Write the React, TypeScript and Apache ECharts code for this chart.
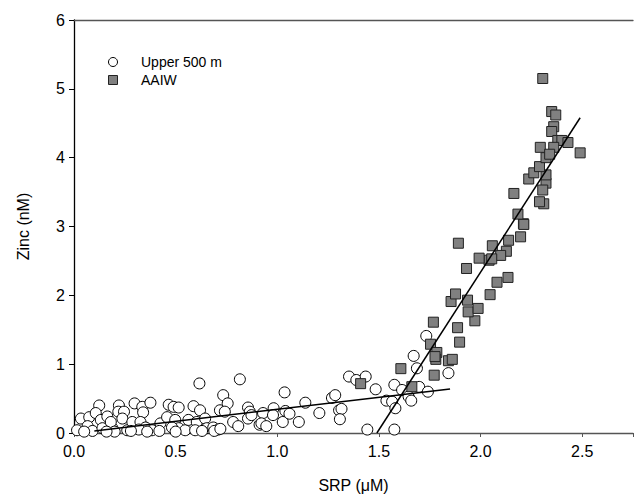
import React, { useEffect, useRef } from "react";
import * as echarts from "echarts";

// Upper 500 m samples: [SRP (µM), Zinc (nM)]
const upper500: number[][] = [
  [0.015, 0.04], [0.034, 0.21], [0.075, 0.23], [0.067, 0.1], [0.091, 0.03],
  [0.124, 0.4], [0.107, 0.29], [0.132, 0.19], [0.14, 0.07], [0.164, 0.24],
  [0.189, 0.07], [0.181, 0.16], [0.221, 0.4], [0.218, 0.31], [0.246, 0.31],
  [0.238, 0.21], [0.262, 0.04], [0.287, 0.16], [0.298, 0.43], [0.336, 0.38],
  [0.34, 0.3], [0.376, 0.44], [0.327, 0.16], [0.352, 0.08], [0.319, 0.05],
  [0.384, 0.04], [0.425, 0.14], [0.458, 0.23], [0.466, 0.41], [0.49, 0.38],
  [0.515, 0.37], [0.498, 0.19], [0.515, 0.07], [0.482, 0.08], [0.547, 0.04],
  [0.563, 0.19], [0.588, 0.39], [0.617, 0.72], [0.62, 0.33], [0.604, 0.16],
  [0.596, 0.04], [0.645, 0.21], [0.653, 0.07], [0.685, 0.08], [0.71, 0.05],
  [0.718, 0.33], [0.734, 0.55], [0.756, 0.43], [0.742, 0.31], [0.783, 0.16],
  [0.808, 0.1], [0.816, 0.78], [0.856, 0.37], [0.865, 0.31], [0.856, 0.21],
  [0.913, 0.12], [0.873, 0.26], [0.93, 0.29], [0.922, 0.14], [0.946, 0.1],
  [0.982, 0.36], [0.979, 0.26], [1.027, 0.16], [1.036, 0.59], [1.04, 0.32],
  [1.06, 0.28], [1.106, 0.16], [1.138, 0.44], [1.207, 0.29], [1.269, 0.51],
  [1.285, 0.55], [1.304, 0.33], [1.316, 0.35], [1.308, 0.2], [1.353, 0.82],
  [1.389, 0.77], [1.435, 0.82], [1.484, 0.635], [1.443, 0.05], [1.537, 0.47],
  [1.565, 0.455], [1.581, 0.36], [1.576, 0.05], [1.576, 0.7], [1.614, 0.625],
  [1.646, 0.53], [1.659, 0.47], [1.671, 1.12], [1.687, 0.94], [1.698, 0.67],
  [1.741, 0.6], [1.842, 0.87], [1.733, 1.41],
  [0.05, 0.02], [0.2, 0.02], [0.28, 0.03], [0.42, 0.03], [0.5, 0.02],
  [0.63, 0.03], [0.69, 0.03], [0.72, 0.06], [0.16, 0.02], [0.36, 0.02]
];

// AAIW samples: [SRP (µM), Zinc (nM)]
const aaiw: number[][] = [
  [1.41, 0.717], [1.608, 0.935], [1.662, 0.673], [1.754, 1.29], [1.785, 1.17],
  [1.78, 1.07], [1.772, 0.84], [1.842, 1.05], [1.776, 1.11], [1.861, 1.07],
  [1.897, 1.32], [1.887, 1.53], [1.768, 1.61], [1.972, 1.63], [1.939, 1.76],
  [1.988, 1.81], [1.936, 1.93], [1.855, 1.91], [1.877, 2.02], [2.047, 2.01],
  [2.081, 2.19], [2.135, 2.26], [1.931, 2.39], [2.127, 2.64], [2.099, 2.58],
  [2.042, 2.51], [2.055, 2.53], [1.993, 2.54], [2.197, 2.85], [2.211, 3.04],
  [2.138, 2.8], [2.058, 2.72], [1.891, 2.757],
  [2.213, 3.03], [2.184, 3.18], [2.311, 3.33], [2.29, 3.36], [2.322, 3.63],
  [2.306, 3.53], [2.164, 3.48], [2.322, 3.75], [2.237, 3.69], [2.262, 3.78],
  [2.29, 3.87], [2.322, 4.0], [2.294, 4.15], [2.306, 5.15],
  [2.35, 4.67], [2.37, 4.62], [2.36, 4.45], [2.35, 4.38], [2.38, 4.25],
  [2.4, 4.25], [2.43, 4.22], [2.36, 4.15], [2.49, 4.07], [2.34, 4.05]
];

// Regression lines (end points)
const fitUpper: number[][] = [[0.1, 0.03], [1.85, 0.64]];
const fitAAIW: number[][] = [[1.49, 0.0], [2.49, 4.58]];

const xTicks = [0, 0.5, 1, 1.5, 2, 2.5];

export default function App() {
  const ref = useRef<HTMLDivElement>(null);
  useEffect(() => {
    if (!ref.current) return;
    const chart = echarts.init(ref.current, undefined, { renderer: "svg" });
    const font = "'Liberation Sans', Arial, sans-serif";
    chart.setOption({
      animation: false,
      backgroundColor: "#ffffff",
      grid: { left: 74, top: 20, right: 0, bottom: 66, containLabel: false },
      xAxis: [
        {
          type: "value",
          min: 0,
          max: 2.75,
          interval: 0.5,
          name: "SRP (\u03bcM)",
          nameLocation: "middle",
          nameGap: 44,
          nameTextStyle: { fontFamily: font, fontSize: 16, color: "#000" },
          axisLine: { show: true, lineStyle: { color: "#555", width: 1.3 } },
          axisTick: { show: true, inside: false, length: 4, lineStyle: { color: "#555" } },
          axisLabel: {
            fontFamily: font,
            fontSize: 16,
            color: "#000",
            margin: 10,
            formatter: (v: number) => (xTicks.some((t) => Math.abs(t - v) < 1e-6) ? v.toFixed(1) : ""),
          },
          splitLine: { show: false },
        },
        {
          type: "value",
          position: "top",
          min: 0,
          max: 2.75,
          axisLine: { show: true, lineStyle: { color: "#555", width: 1.3 } },
          axisTick: { show: false },
          axisLabel: { show: false },
          splitLine: { show: false },
        },
      ],
      yAxis: {
        type: "value",
        min: 0,
        max: 6,
        interval: 1,
        name: "Zinc (nM)",
        nameLocation: "middle",
        nameGap: 43,
        nameTextStyle: { fontFamily: font, fontSize: 16, color: "#000" },
        axisLine: { show: true, lineStyle: { color: "#000", width: 1.3 } },
        axisTick: { show: true, inside: false, length: 5, lineStyle: { color: "#000" } },
        axisLabel: { fontFamily: font, fontSize: 16, color: "#000", margin: 9 },
        splitLine: { show: false },
      },
      graphic: [
        { type: "circle", shape: { cx: 113, cy: 62, r: 4.5 }, style: { fill: "#fff", stroke: "#000", lineWidth: 1 } },
        { type: "text", x: 141, y: 62, style: { text: "Upper 500 m", font: `14px ${font}`, fill: "#000", verticalAlign: "middle" } },
        { type: "rect", shape: { x: 108.5, y: 75.5, width: 9, height: 9 }, style: { fill: "#808080", stroke: "#222", lineWidth: 1 } },
        { type: "text", x: 141, y: 80, style: { text: "AAIW", font: `14px ${font}`, fill: "#000", verticalAlign: "middle" } },
      ],
      series: [
        {
          name: "Upper 500 m",
          type: "scatter",
          data: upper500,
          symbol: "circle",
          symbolSize: 11,
          itemStyle: { color: "#ffffff", borderColor: "#000", borderWidth: 1, opacity: 1 },
          z: 2,
        },
        {
          name: "AAIW",
          type: "scatter",
          data: aaiw,
          symbol: "rect",
          symbolSize: 10,
          itemStyle: { color: "#808080", borderColor: "#222", borderWidth: 1, opacity: 1 },
          z: 3,
        },
        {
          type: "line",
          data: fitUpper,
          symbol: "none",
          lineStyle: { color: "#000", width: 1.5 },
          z: 5,
        },
        {
          type: "line",
          data: fitAAIW,
          symbol: "none",
          lineStyle: { color: "#000", width: 1.5 },
          z: 5,
        },
      ],
    });
    return () => chart.dispose();
  }, []);
  return <div ref={ref} style={{ width: 636, height: 499, position: "fixed", left: 0, top: 0 }} />;
}
